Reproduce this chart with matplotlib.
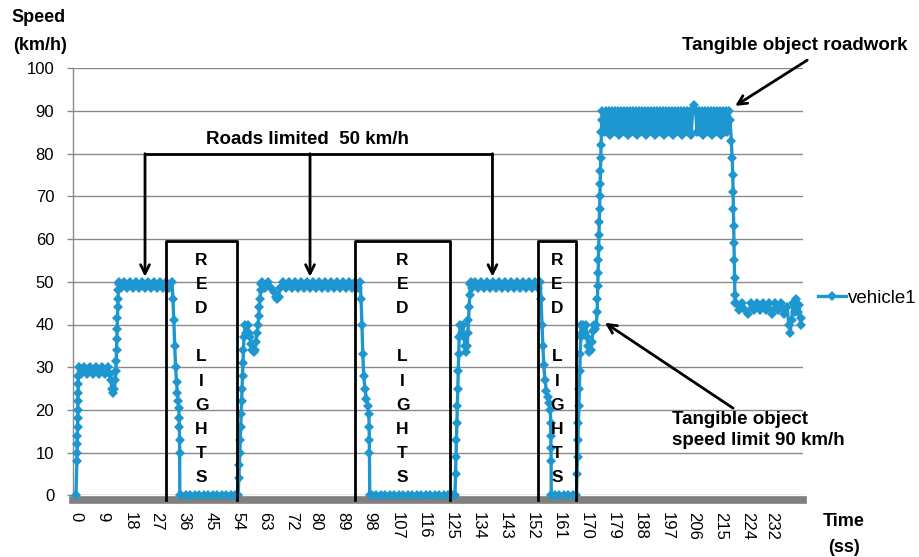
import numpy as np
import matplotlib.pyplot as plt

plt.rcParams['font.family'] = ['Liberation Sans', 'DejaVu Sans']

# ----- data (time in s, speed in km/h) -----

# start, ~30 km/h, climb to 50
t_start = [0, 0.3, 0.35, 0.4, 0.45, 0.5, 0.55, 0.6, 0.65, 0.7, 0.75, 0.8, 0.9,
           1.5, 2.5, 3.5, 4.5, 5.5, 6.5, 7.5, 8.5, 9.5, 10.5,
           11.2, 11.6, 12.0, 12.4, 12.8, 13.1,
           13.3, 13.4, 13.5, 13.6, 13.7, 13.8, 13.9, 14.0, 14.1, 14.2, 14.3]
v_start = [0, 8, 10, 12, 14, 16, 18, 20, 22, 24, 26, 28, 30,
           28.3, 30, 28.3, 30, 28.3, 30, 28.3, 30, 28.3, 30,
           28.3, 27, 25, 24, 25, 27,
           29, 31.5, 34, 36.5, 39, 41.5, 44, 46, 48, 49.5, 50]

# 50 km/h road
t_cruise1 = [15, 16, 17, 18, 19, 20, 21, 22, 23, 24, 25, 26, 27, 28, 29, 30, 31, 32]
v_cruise1 = [48.5, 50, 48.5, 50, 48.5, 50, 48.5, 50, 48.5, 50, 48.5, 50, 48.5, 50, 48.5, 50, 48.5, 50]

# red light 1
t_stop1 = [32.3, 32.6, 32.9, 33.2, 33.5, 33.8, 34.1, 34.3, 34.4, 34.45, 34.5, 34.55, 34.6,
           35, 36.5, 38, 39.5, 41, 42.5, 44, 45.5, 47, 48.5, 50, 51.5, 53, 54]
v_stop1 = [46, 41, 35, 30, 26.5, 24, 22, 20.5, 18, 16, 13, 10, 0,
           0, 0, 0, 0, 0, 0, 0, 0, 0, 0, 0, 0, 0, 0]

t_go2 = [54.3, 54.45, 54.6, 54.75, 54.9, 55.05, 55.2, 55.35, 55.5, 55.65, 55.8, 56.0,
         56.4, 56.8, 57.2, 57.6, 58.0, 58.4, 58.8, 59.2, 59.6, 60.0, 60.4,
         60.7, 60.9, 61.1, 61.3, 61.5, 61.7, 61.9]
v_go2 = [4, 7, 10, 13, 16, 19, 22, 25, 28, 31, 34, 37,
         40, 38, 40, 38, 37, 35.5, 34, 33.5, 34, 36, 38,
         40, 42, 44, 46, 48, 49.5, 50]

t_cruise2 = [63, 64, 65, 66, 66.5, 67, 67.5, 68,
             69, 70, 71, 72, 73, 74, 75, 76, 77, 78, 79, 80, 81, 82, 83, 84, 85, 86,
             87, 88, 89, 90, 91, 92, 93, 94, 94.7]
v_cruise2 = [48.5, 50, 48.5, 47.5, 46.5, 46, 46.5, 48.5,
             50, 48.5, 50, 48.5, 50, 48.5, 50, 48.5, 50, 48.5, 50, 48.5, 50, 48.5, 50, 48.5, 50, 48.5,
             50, 48.5, 50, 48.5, 50, 48.5, 50, 48.5, 50]

# red light 2
t_stop2 = [95.0, 95.3, 95.6, 95.9, 96.3, 96.8, 97.3, 97.6, 97.7, 97.75, 97.8, 97.9,
           98.5, 100, 101.5, 103, 104.5, 106, 107.5, 109, 110.5, 112, 113.5, 115,
           116.5, 118, 119.5, 121, 122.5, 124, 125.5, 126.3]
v_stop2 = [46, 40, 33, 28, 25, 22.5, 21, 19, 16, 13, 10, 0,
           0, 0, 0, 0, 0, 0, 0, 0, 0, 0, 0, 0,
           0, 0, 0, 0, 0, 0, 0, 0]

t_go3 = [126.5, 126.65, 126.8, 126.95, 127.1, 127.25, 127.4, 127.55, 127.7,
         128.1, 128.5, 128.9, 129.3, 129.7, 130.1,
         130.4, 130.6, 130.8, 131.0, 131.2, 131.4, 131.6]
v_go3 = [5, 9, 13, 17, 21, 25, 29, 33, 37,
         40, 38, 40, 37, 35, 33.5,
         35, 38, 41, 44, 47, 49.5, 50]

t_cruise3 = [132, 133, 134, 135, 136, 137, 138, 139, 140, 141, 142, 143,
             144, 145, 146, 147, 148, 149, 150, 151, 152, 153, 154, 154.7]
v_cruise3 = [48.5, 50, 48.5, 50, 48.5, 50, 48.5, 50, 48.5, 50, 48.5, 50,
             48.5, 50, 48.5, 50, 48.5, 50, 48.5, 50, 48.5, 50, 48.5, 50]

# red light 3
t_stop3 = [155.0, 155.3, 155.6, 155.9, 156.3, 156.8, 157.3, 157.8, 158.1, 158.2, 158.25, 158.3, 158.35, 158.4,
           159.5, 161, 162.5, 164, 165.5, 166.8]
v_stop3 = [46, 40, 35, 30.5, 27, 24.5, 23, 21.5, 20, 17, 14, 11, 8, 0,
           0, 0, 0, 0, 0, 0]

# go, then 90 km/h sign
t_go4 = [167.0, 167.15, 167.3, 167.45, 167.6, 167.75, 167.9, 168.05, 168.2, 168.35,
         168.7, 169.1, 169.5, 169.9, 170.3, 170.7, 171.1, 171.5, 171.9, 172.3, 172.7, 173.1, 173.4,
         173.7, 173.8, 173.9, 174.0, 174.1, 174.2, 174.3, 174.4, 174.5, 174.6, 174.7, 174.8,
         174.9, 175.0, 175.1, 175.2, 175.4]
v_go4 = [5, 9, 13, 17, 21, 25, 29, 33, 37, 40,
         38, 40, 38, 40, 37, 35, 33.5, 34, 36, 38.5, 40, 39, 40,
         43, 46, 49, 52, 55, 58, 61, 64, 67, 70, 73, 76,
         79, 82, 85, 88, 90]

t_fast = [176, 176.5, 177, 177.5, 178, 178.5, 179, 179.5, 180, 180.5,
          181, 181.5, 182, 182.5, 183, 183.5, 184, 184.5, 185, 185.5,
          186, 186.5, 187, 187.5, 188, 188.5, 189, 189.5, 190, 190.5,
          191, 191.5, 192, 192.5, 193, 193.5, 194, 194.5, 195, 195.5,
          196, 196.5, 197, 197.5, 198, 198.5, 199, 199.5, 200, 200.5,
          201, 201.5, 202, 202.5, 203, 203.5, 204, 204.5, 205, 205.5,
          206, 206.5, 207, 207.5, 208, 208.5, 209, 209.5, 210, 210.5,
          211, 211.5, 212, 212.5, 213, 213.5, 214, 214.5, 215, 215.5,
          216, 216.5, 217, 217.5, 218]
v_fast = [85, 90, 85, 90, 84.3, 90, 85, 90, 85, 90,
          84.3, 90, 85, 90, 85, 90, 84.3, 90, 85, 90,
          85, 90, 84.3, 90, 85, 90, 85, 90, 84.3, 90,
          85, 90, 85, 90, 84.3, 90, 85, 90, 85, 90,
          84.3, 90, 85, 90, 85, 90, 84.3, 90, 85, 90,
          85, 90, 84.3, 90, 85, 90, 85, 90, 84.3, 90,
          91.5, 90, 85, 90, 85, 90, 84.3, 90, 85, 90,
          85, 90, 84.3, 90, 85, 90, 85, 90, 84.3, 90,
          85, 90, 85, 90, 88]

# roadwork
t_slow = [218.4, 218.7, 218.9, 219.0, 219.1, 219.2, 219.3, 219.4, 219.5, 219.6, 219.7,
          220, 221, 222, 223, 224, 225, 226, 227, 228, 229, 230, 231, 232, 233, 234, 235, 236, 237,
          237.6, 238, 238.5, 239, 239.5, 240, 240.5, 241, 241.5, 241.8]
v_slow = [83, 79, 75, 71, 67, 63, 59, 55, 51, 47, 45,
          45, 43.5, 45, 43.5, 42.5, 45, 43.5, 45, 43.5, 45, 43.5, 45, 42.5, 45, 43.5, 45, 42.5, 44,
          40, 38, 41, 45, 43, 46, 43, 44.5, 40, 41.5]

time_s = np.concatenate([t_start, t_cruise1, t_stop1, t_go2, t_cruise2, t_stop2,
                         t_go3, t_cruise3, t_stop3, t_go4, t_fast, t_slow])
speed = np.concatenate([v_start, v_cruise1, v_stop1, v_go2, v_cruise2, v_stop2,
                        v_go3, v_cruise3, v_stop3, v_go4, v_fast, v_slow])

xtick_labels = ['0', '9', '18', '27', '36', '45', '54', '63', '72', '80', '89', '98', '107',
                '116', '125', '134', '143', '152', '161', '170', '179', '188', '197', '206',
                '215', '224', '232']

red_boxes = [(30.0, 53.7), (93.0, 124.7), (154.0, 166.7)]
limit_arrows_x = [23.0, 78.0, 138.8]

BLUE = '#1E96CF'
GRID = '#8a8a8a'

# ----- figure -----

fig = plt.figure(figsize=(9.2, 5.57), dpi=100)
ax = fig.add_axes([73 / 920, 61.7 / 557, 730 / 920, 427 / 557])

ax.plot(time_s, speed, color=BLUE, lw=2.4, marker='D', ms=5.4, mew=0,
        zorder=4, clip_on=False, label='vehicle1')

ax.set_xlim(-1, 242.3)
ax.set_ylim(0, 100)
ax.set_yticks(range(0, 101, 10))
ax.set_xticks([int(s) for s in xtick_labels])
ax.set_xticklabels(xtick_labels)
ax.tick_params(axis='y', length=4.5, width=1, color=GRID, pad=9, labelsize=12)
ax.tick_params(axis='x', length=0, pad=8.5, labelsize=12, labelrotation=270)
ax.yaxis.grid(True, color=GRID, lw=1)
ax.set_axisbelow(True)

for s in ['top', 'right']:
    ax.spines[s].set_visible(False)
ax.spines['left'].set_color(GRID)
ax.spines['left'].set_linewidth(1)
ax.spines['bottom'].set_color('#808080')
ax.spines['bottom'].set_linewidth(5.5)
ax.spines['bottom'].set_position(('outward', 3.4))

# red light boxes
letters = ['R', 'E', 'D', '', 'L', 'I', 'G', 'H', 'T', 'S']
for x0, x1 in red_boxes:
    ax.plot([x0, x0, x1, x1], [-1.2, 59.6, 59.6, -1.2], color='black', lw=2,
            zorder=5, clip_on=False)
    xc = (x0 + x1) / 2
    for i, ch in enumerate(letters):
        if ch:
            ax.annotate(ch, xy=(xc, 54.9), xytext=(0, -17.3 * i), textcoords='offset points',
                        ha='center', va='center', fontsize=12.5, fontweight='bold', zorder=6)

# roads limited bracket
ax.plot([limit_arrows_x[0], limit_arrows_x[-1]], [80, 80], color='black', lw=2, zorder=5)
for x in limit_arrows_x:
    ax.annotate('', xy=(x, 51.2), xytext=(x, 80),
                arrowprops=dict(arrowstyle='->', lw=2, color='black', mutation_scale=16,
                                shrinkA=0, shrinkB=0), zorder=5)
ax.text(77, 83.4, 'Roads limited  50 km/h', ha='center', va='center',
        fontsize=13.5, fontweight='bold')

ax.annotate('', xy=(219.7, 91.2), xytext=(243.7, 101.9), annotation_clip=False,
            arrowprops=dict(arrowstyle='->', lw=2, color='black', mutation_scale=16,
                            shrinkA=0, shrinkB=0))
ax.annotate('', xy=(176.3, 40.4), xytext=(219, 20.4), annotation_clip=False,
            arrowprops=dict(arrowstyle='->', lw=2, color='black', mutation_scale=16,
                            shrinkA=0, shrinkB=0))

fig.text(795 / 920, 1 - 45 / 557, 'Tangible object roadwork', ha='center', va='center',
         fontsize=13.5, fontweight='bold')
fig.text(672 / 920, 1 - 430 / 557, 'Tangible object\nspeed limit 90 km/h', ha='left',
         va='center', fontsize=13.5, fontweight='bold', linespacing=1.3)

fig.text(39 / 920, 1 - 18 / 557, 'Speed', ha='center', va='center', fontsize=13, fontweight='bold')
fig.text(40 / 920, 1 - 45 / 557, '(km/h)', ha='center', va='center', fontsize=13, fontweight='bold')
fig.text(844 / 920, 1 - 522 / 557, 'Time', ha='center', va='center', fontsize=13, fontweight='bold')
fig.text(844 / 920, 1 - 547 / 557, '(ss)', ha='center', va='center', fontsize=13, fontweight='bold')

fig.legend(loc='center left', bbox_to_anchor=(818 / 920, 1 - 298 / 557), frameon=False,
           fontsize=13.5, handlelength=1.5, handletextpad=0.1, borderpad=0, borderaxespad=0)

fig.savefig('out.png', dpi=100)
